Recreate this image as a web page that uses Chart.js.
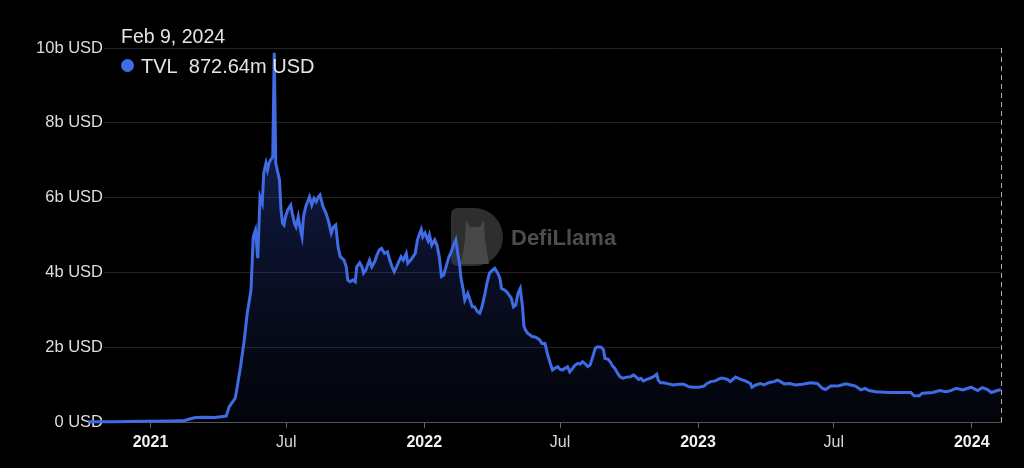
<!DOCTYPE html>
<html>
<head>
<meta charset="utf-8">
<script src="https://cdn.jsdelivr.net/npm/chart.js@4.4.1/dist/chart.umd.min.js"></script>
<style>
  html, body { margin: 0; padding: 0; background: #000; }
  #wrap { position: relative; width: 1024px; height: 468px; }
</style>
</head>
<body>
<div id="wrap"><canvas id="tvlChart" width="1024" height="468"></canvas></div>
<script>
// TVL in billions of USD
const dates = [
  '2020-10-10','2020-11-15','2020-12-20','2021-01-31','2021-02-16','2021-02-22','2021-03-02','2021-03-15','2021-03-28','2021-04-12',
  '2021-04-16','2021-04-24','2021-04-26','2021-05-01','2021-05-06','2021-05-10','2021-05-15','2021-05-18','2021-05-21','2021-05-24',
  '2021-05-27','2021-05-30','2021-06-01','2021-06-04','2021-06-06','2021-06-08','2021-06-10','2021-06-13','2021-06-15','2021-06-17',
  '2021-06-19','2021-06-22','2021-06-24','2021-06-26','2021-06-28','2021-06-30','2021-07-03','2021-07-07','2021-07-09','2021-07-12',
  '2021-07-14','2021-07-17','2021-07-20','2021-07-22','2021-07-24','2021-07-27','2021-08-01','2021-08-04','2021-08-07','2021-08-10',
  '2021-08-13','2021-08-15','2021-08-19','2021-08-23','2021-08-26','2021-08-30','2021-09-02','2021-09-05','2021-09-08','2021-09-11',
  '2021-09-16','2021-09-19','2021-09-21','2021-09-24','2021-09-28','2021-10-01','2021-10-03','2021-10-07','2021-10-10','2021-10-12',
  '2021-10-15','2021-10-20','2021-10-23','2021-10-27','2021-10-30','2021-11-02','2021-11-05','2021-11-09','2021-11-13','2021-11-16',
  '2021-11-19','2021-11-22','2021-11-25','2021-11-28','2021-12-01','2021-12-04','2021-12-08','2021-12-10','2021-12-14','2021-12-17',
  '2021-12-20','2021-12-23','2021-12-26','2021-12-28','2021-12-30','2022-01-02','2022-01-06','2022-01-08','2022-01-11','2022-01-15',
  '2022-01-18','2022-01-21','2022-01-24','2022-01-27','2022-01-30','2022-02-03','2022-02-06','2022-02-09','2022-02-12','2022-02-14',
  '2022-02-17','2022-02-19','2022-02-22','2022-02-24','2022-02-28','2022-03-03','2022-03-06','2022-03-09','2022-03-13','2022-03-16',
  '2022-03-19','2022-03-23','2022-03-26','2022-03-29','2022-04-02','2022-04-05','2022-04-09','2022-04-12','2022-04-14','2022-04-18',
  '2022-04-21','2022-04-24','2022-04-27','2022-04-30','2022-05-03','2022-05-06','2022-05-09','2022-05-12','2022-05-14','2022-05-16',
  '2022-05-19','2022-05-22','2022-05-25','2022-05-28','2022-06-01','2022-06-04','2022-06-07','2022-06-11','2022-06-14','2022-06-18',
  '2022-06-21','2022-06-24','2022-06-28','2022-07-01','2022-07-04','2022-07-08','2022-07-11','2022-07-14','2022-07-18','2022-07-21',
  '2022-07-25','2022-07-28','2022-07-31','2022-08-03','2022-08-07','2022-08-10','2022-08-13','2022-08-17','2022-08-20','2022-08-25',
  '2022-08-28','2022-08-30','2022-09-03','2022-09-06','2022-09-09','2022-09-12','2022-09-16','2022-09-19','2022-09-23','2022-09-28',
  '2022-10-03','2022-10-07','2022-10-10','2022-10-14','2022-10-17','2022-10-20','2022-10-25','2022-10-29','2022-11-03','2022-11-07',
  '2022-11-09','2022-11-12','2022-11-16','2022-11-23','2022-11-29','2022-12-06','2022-12-13','2022-12-20','2022-12-26','2023-01-02',
  '2023-01-09','2023-01-13','2023-01-18','2023-01-24','2023-01-31','2023-02-04','2023-02-09','2023-02-13','2023-02-20','2023-02-27',
  '2023-03-05','2023-03-12','2023-03-14','2023-03-19','2023-03-25','2023-03-30','2023-04-05','2023-04-12','2023-04-17','2023-04-21',
  '2023-04-26','2023-05-03','2023-05-11','2023-05-20','2023-05-31','2023-06-09','2023-06-16','2023-06-20','2023-06-27','2023-07-08',
  '2023-07-17','2023-07-24','2023-07-30','2023-08-06','2023-08-12','2023-08-17','2023-08-26','2023-09-13','2023-10-01','2023-10-12',
  '2023-10-16','2023-10-23','2023-10-27','2023-11-10','2023-11-19','2023-11-28','2023-12-04','2023-12-11','2023-12-20','2023-12-31',
  '2024-01-09','2024-01-15','2024-01-22','2024-01-27','2024-02-02','2024-02-09'
];
const tvl = [
  0.01,0.01,0.02,0.03,0.04,0.08,0.12,0.13,0.12,0.16,
  0.41,0.64,0.86,1.48,2.19,2.91,3.53,4.95,5.13,4.38,
  6.02,5.85,6.65,6.92,6.74,6.92,7.00,7.09,9.87,6.92,
  6.74,6.47,5.67,5.32,5.27,5.49,5.67,5.80,5.58,5.31,
  5.22,5.49,5.13,4.95,5.49,5.76,6.02,5.80,5.98,5.89,
  6.02,6.07,5.76,5.58,5.40,5.05,5.22,5.27,4.69,4.42,
  4.33,4.15,3.80,3.75,3.80,3.75,4.15,4.26,4.15,3.98,
  4.06,4.33,4.15,4.29,4.47,4.60,4.64,4.51,4.55,4.33,
  4.15,4.02,4.15,4.29,4.42,4.33,4.51,4.24,4.33,4.42,
  4.51,4.87,5.05,5.15,4.95,5.05,4.85,5.00,4.73,4.87,
  4.73,4.42,3.89,3.93,4.15,4.42,4.55,4.73,4.87,4.60,
  4.24,3.84,3.53,3.26,3.44,3.26,3.08,3.08,2.95,2.91,
  3.08,3.44,3.75,3.98,4.06,4.11,3.98,3.84,3.57,3.53,
  3.48,3.40,3.31,3.08,3.13,3.44,3.57,3.08,2.55,2.46,
  2.37,2.33,2.28,2.28,2.24,2.19,2.10,2.10,1.84,1.57,
  1.39,1.44,1.48,1.41,1.39,1.44,1.48,1.34,1.44,1.52,
  1.57,1.55,1.61,1.57,1.48,1.52,1.70,1.97,2.01,2.00,
  1.93,1.70,1.68,1.61,1.50,1.44,1.30,1.21,1.17,1.20,
  1.21,1.26,1.21,1.14,1.17,1.10,1.14,1.17,1.21,1.28,
  1.12,1.05,1.05,1.02,0.99,1.01,1.01,0.94,0.93,0.93,
  0.96,1.03,1.08,1.10,1.17,1.17,1.14,1.08,1.20,1.14,
  1.10,1.03,0.93,0.99,1.03,0.99,1.05,1.08,1.12,1.08,
  1.02,1.03,0.99,1.01,1.05,1.03,0.90,0.87,0.96,0.97,
  1.02,0.99,0.96,0.86,0.90,0.84,0.81,0.79,0.79,0.79,
  0.70,0.70,0.77,0.79,0.84,0.81,0.84,0.90,0.86,0.93,
  0.84,0.92,0.87,0.79,0.83,0.87
];
const tickDates = ['2021-01-01','2021-07-01','2022-01-01','2022-07-01','2023-01-01','2023-07-01','2024-01-01'];
const tickLabels = ['2021','Jul','2022','Jul','2023','Jul','2024'];
const yTicks = [0, 2, 4, 6, 8, 10];
// grid starts here; earlier points are drawn under the y labels
const axisStart = '2020-10-31';

const headerDate = 'Feb 9, 2024';
const headerValue = 'TVL  872.64m USD';

const LINE = '#3f6ce4';
const FONT = '"Liberation Sans", Arial, sans-serif';

function dayNum(s) {
  const p = s.split('-');
  return Date.UTC(+p[0], +p[1] - 1, +p[2]) / 86400000;
}

function isYear(ctx) {
  const l = tickLabels[ctx.index];
  return typeof l === 'string' && l.length === 4;
}

const points = dates.map((d, i) => ({x: dayNum(d), y: tvl[i]}));

const overlay = {
  id: 'overlay',
  beforeDatasetsDraw(chart) {
    const c = chart.ctx;
    // watermark
    c.save();
    c.fillStyle = '#2e2e2e';
    c.beginPath();
    c.moveTo(458, 208);
    c.lineTo(474, 208);
    c.arc(474, 237, 29, -Math.PI / 2, Math.PI / 2);
    c.lineTo(458, 266);
    c.quadraticCurveTo(451, 266, 451, 259);
    c.lineTo(451, 215);
    c.quadraticCurveTo(451, 208, 458, 208);
    c.fill();
    c.fillStyle = '#474747';
    c.beginPath();
    c.moveTo(466, 220); c.lineTo(470, 227); c.lineTo(480, 227); c.lineTo(484, 220);
    c.lineTo(485, 240); c.lineTo(489, 264); c.lineTo(461, 264); c.lineTo(465, 240);
    c.closePath();
    c.fill();
    c.fillStyle = '#4d4d4d';
    c.font = 'bold 22px ' + FONT;
    c.textBaseline = 'alphabetic';
    c.fillText('DefiLlama', 511, 245);
    c.restore();
  },
  afterDatasetsDraw(chart) {
    const c = chart.ctx;
    const area = chart.chartArea;
    const x = chart.scales.x.getPixelForValue(dayNum(dates[dates.length - 1]));
    c.save();
    c.strokeStyle = 'rgba(220,220,220,0.8)';
    c.lineWidth = 1;
    c.setLineDash([5, 4]);
    c.beginPath();
    c.moveTo(Math.round(x) + 0.5, area.top);
    c.lineTo(Math.round(x) + 0.5, area.bottom);
    c.stroke();
    c.restore();
  },
  afterDraw(chart) {
    const c = chart.ctx;
    c.save();
    c.fillStyle = '#e4e4e4';
    c.textBaseline = 'alphabetic';
    c.font = '19.5px ' + FONT;
    c.fillText(headerDate, 121, 43);
    c.fillStyle = LINE;
    c.beginPath();
    c.arc(127.5, 65.5, 6.5, 0, Math.PI * 2);
    c.fill();
    c.fillStyle = '#e4e4e4';
    c.font = '20px ' + FONT;
    c.fillText(headerValue, 141, 72.5);
    c.restore();
  }
};

const CHART = document.getElementById('tvlChart');
let tvlChart = new Chart(CHART, {
  type: 'line',
  data: {
    datasets: [{
      label: 'TVL',
      data: points,
      clip: false,
      borderColor: LINE,
      borderWidth: 3,
      pointRadius: 0,
      tension: 0,
      fill: 'origin',
      backgroundColor: (ctx) => {
        const area = ctx.chart.chartArea;
        if (!area) return 'rgba(40,60,140,0.3)';
        const g = ctx.chart.ctx.createLinearGradient(0, area.top, 0, area.bottom);
        g.addColorStop(0, 'rgba(55,85,200,0.5)');
        g.addColorStop(0.45, 'rgba(40,65,160,0.32)');
        g.addColorStop(1, 'rgba(25,35,90,0.12)');
        return g;
      }
    }]
  },
  options: {
    responsive: false,
    animation: false,
    layout: { padding: { top: 48, right: 23, bottom: 0, left: 0 } },
    plugins: { legend: { display: false }, tooltip: { enabled: false } },
    scales: {
      x: {
        type: 'linear',
        min: dayNum(axisStart),
        max: dayNum(dates[dates.length - 1]),
        afterBuildTicks: (scale) => { scale.ticks = tickDates.map(d => ({ value: dayNum(d) })); },
        afterFit: (scale) => { scale.height = 46; },
        ticks: {
          autoSkip: false,
          maxRotation: 0,
          padding: 5,
          callback: (v, i) => tickLabels[i],
          color: (ctx) => isYear(ctx) ? '#f2f2f2' : '#d8d8d8',
          font: (ctx) => ({ family: FONT, size: 16, weight: isYear(ctx) ? 'bold' : 'normal' })
        },
        grid: { drawOnChartArea: false, drawTicks: true, tickLength: 6, color: '#6a6a6a' },
        border: { display: true, color: '#555' }
      },
      y: {
        min: 0,
        max: 10,
        afterBuildTicks: (scale) => { scale.ticks = yTicks.map(v => ({ value: v })); },
        afterFit: (scale) => { scale.width = 104; },
        ticks: {
          padding: 1,
          color: '#dedede',
          font: { family: FONT, size: 16.5 },
          callback: (v) => v === 0 ? '0 USD' : v + 'b USD'
        },
        grid: { drawTicks: false, color: '#232323' },
        border: { display: false }
      }
    }
  },
  plugins: [overlay]
});
</script>
</body>
</html>
